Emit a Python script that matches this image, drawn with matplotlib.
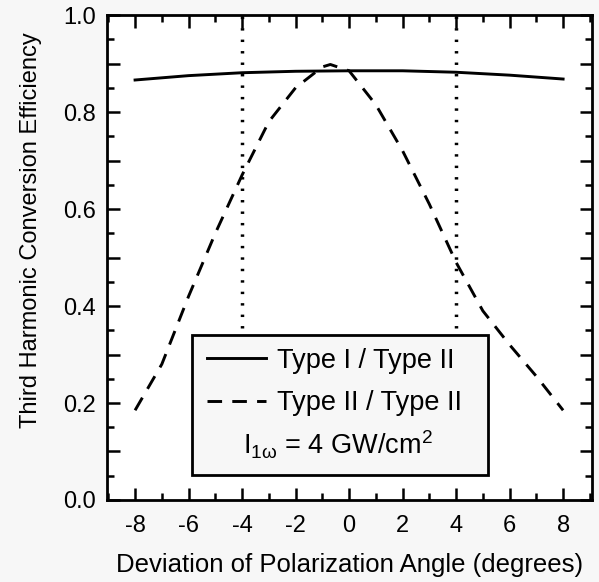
import matplotlib
matplotlib.use("Agg")
import matplotlib.pyplot as plt
from matplotlib.patches import Rectangle
from matplotlib.ticker import MultipleLocator, FuncFormatter

plt.rcParams['font.family'] = ['Liberation Sans', 'DejaVu Sans']
plt.rcParams['mathtext.fontset'] = 'custom'
plt.rcParams['mathtext.rm'] = 'Liberation Sans'
plt.rcParams['mathtext.it'] = 'Liberation Sans:italic'

# deviation angle (degrees)
ang = [-8, -6, -4, -2, 0, 2, 4, 6, 8]
# Type I / Type II efficiency
eff_t1 = [0.866, 0.875, 0.881, 0.884, 0.885, 0.885, 0.882, 0.876, 0.868]

ang2 = [-8, -7, -6, -5, -4, -3, -2, -1, -0.7, 0, 1, 2, 3, 4, 5, 6, 7, 8]
# Type II / Type II efficiency
eff_t2 = [0.185, 0.28, 0.42, 0.55, 0.67, 0.78, 0.85, 0.893, 0.898, 0.885,
          0.815, 0.72, 0.61, 0.49, 0.39, 0.32, 0.255, 0.185]

# acceptance limits
limits = [-4, 4]
lim_top = 1.0
lim_bot = 0.355

fig = plt.figure(figsize=(5.99, 5.82), dpi=100)
ax = fig.add_axes([0.1786, 0.1409, 0.8097, 0.8333])

l1, = ax.plot(ang, eff_t1, color='black', lw=2.1)
l2, = ax.plot(ang2, eff_t2, color='black', lw=2.1, linestyle=(0, (5, 3.5)))
for xv in limits:
    ax.plot([xv, xv], [lim_bot, lim_top], color='black', lw=2.5,
            linestyle=(0, (0.7, 2.6)))

ax.set_xlim(-9.05, 9.08)
ax.set_ylim(0, 1.0)

ax.xaxis.set_major_locator(MultipleLocator(2))
ax.xaxis.set_minor_locator(MultipleLocator(1))
ax.yaxis.set_major_locator(MultipleLocator(0.1))
ax.yaxis.set_minor_locator(MultipleLocator(0.05))
ax.yaxis.set_major_formatter(FuncFormatter(
    lambda v, p: '%.1f' % v if round(v * 10) % 2 == 0 else ''))
ax.xaxis.set_major_formatter(FuncFormatter(lambda v, p: '%d' % v))

ax.tick_params(which='both', direction='in', top=True, right=True,
               width=1.8, labelsize=17)
ax.tick_params(which='major', length=9, pad=8)
ax.tick_params(axis='x', which='major', pad=11)
ax.tick_params(which='minor', length=5)
for s in ax.spines.values():
    s.set_linewidth(2)

ax.set_xlabel('Deviation of Polarization Angle (degrees)', fontsize=18.5,
              labelpad=11)
ax.set_ylabel('Third Harmonic Conversion Efficiency', fontsize=17)
ax.yaxis.set_label_coords(-0.134, 0.557)

# legend box
ax.add_patch(Rectangle((0.175, 0.052), 0.611, 0.288, transform=ax.transAxes,
                       fill=True, facecolor='#f7f7f7', edgecolor='black',
                       lw=2, zorder=5))
leg = ax.legend([l1, l2], ['Type I / Type II', 'Type II / Type II'],
                loc='upper left', bbox_to_anchor=(0.175, 0.345),
                frameon=False, fontsize=19.5, handlelength=2.2,
                handletextpad=0.4, labelspacing=0.62, borderaxespad=0.2,
                borderpad=0.35)
leg.set_zorder(6)
ax.text(0.476, 0.093, r'$\mathregular{I_{1\omega}}$ = 4 GW/cm$^\mathregular{2}$',
        transform=ax.transAxes, ha='center', va='baseline', fontsize=19.5,
        zorder=7)

fig.savefig('out.png', dpi=100, facecolor='#f7f7f7')
